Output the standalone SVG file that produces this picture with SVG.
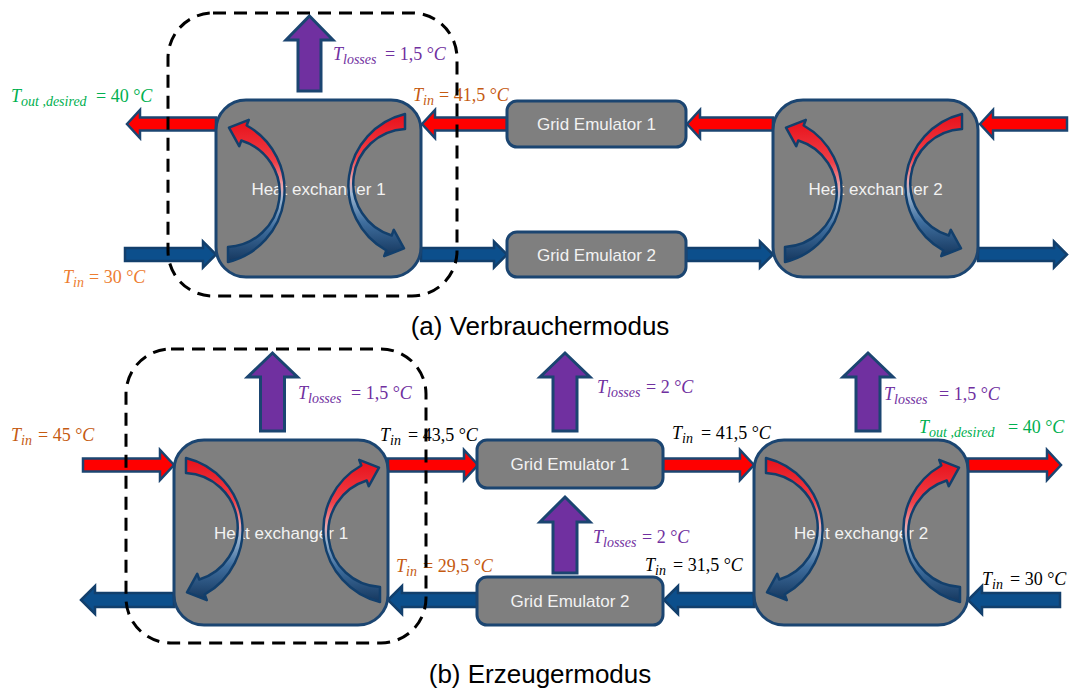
<svg xmlns="http://www.w3.org/2000/svg" xmlns:xlink="http://www.w3.org/1999/xlink" width="1074" height="691" viewBox="0 0 1074 691">
<defs>
<style>
.hx{fill:#7f7f7f;stroke:#1b4571;stroke-width:3}
.ge{fill:#7f7f7f;stroke:#1b4571;stroke-width:3}
.nt{font-family:"Liberation Sans",Arial,sans-serif;font-size:17px;fill:#f2f2f2;text-anchor:middle}
.red{fill:#ff0000;stroke:#1b4571;stroke-width:2.5}
.blue{fill:#0c4f8c;stroke:#123f6c;stroke-width:2.5}
.loss{fill:#7030a0;stroke:#1b4571;stroke-width:3}
.ca{stroke:#123f6c;stroke-width:2.5;stroke-linejoin:round}
.m{font-family:"Liberation Serif","Times New Roman",serif;font-size:18px}
.i{font-style:italic}
.sub{font-style:italic;font-size:14px}
.dash{fill:none;stroke:#000;stroke-width:3;stroke-dasharray:13 8}
.cap{font-family:"Liberation Sans",Arial,sans-serif;font-size:26px;fill:#000;text-anchor:middle}
</style>
<linearGradient id="gRB" x1="0" y1="0" x2="0" y2="1">
<stop offset="0" stop-color="#e8101a"/>
<stop offset="0.3" stop-color="#f04048"/>
<stop offset="0.47" stop-color="#e9a8ae"/>
<stop offset="0.56" stop-color="#9db6d0"/>
<stop offset="0.76" stop-color="#3f6e9e"/>
<stop offset="1" stop-color="#15375e"/>
</linearGradient>
<linearGradient id="gBR" x1="0" y1="1" x2="0" y2="0">
<stop offset="0" stop-color="#e8101a"/>
<stop offset="0.3" stop-color="#f04048"/>
<stop offset="0.47" stop-color="#e9a8ae"/>
<stop offset="0.56" stop-color="#9db6d0"/>
<stop offset="0.76" stop-color="#3f6e9e"/>
<stop offset="1" stop-color="#15375e"/>
</linearGradient>
<path id="ca" class="ca" d="M 12 147 L 12 162 A 74 74 0 0 0 30.7 25.5 L 32.8 19.8 L 13 27.6 L 23.2 46.2 L 25.3 40.5 A 54.5 54.5 0 0 1 12 147 Z"/>
</defs>

<g id="connectors">
<polygon class="red" points="127,124 140,110 140,117.5 216,117.5 216,130.5 140,130.5 140,138"/>
<polygon class="red" points="422,124 435,110 435,117.5 507,117.5 507,130.5 435,130.5 435,138"/>
<polygon class="red" points="687,124 700,110 700,117.5 773,117.5 773,130.5 700,130.5 700,138"/>
<polygon class="red" points="980,124 993,110 993,117.5 1067,117.5 1067,130.5 993,130.5 993,138"/>
<polygon class="blue" points="125,248 203,248 203,241.5 216,254.5 203,267.5 203,261 125,261"/>
<polygon class="blue" points="421,248 494,248 494,241.5 507,254.5 494,267.5 494,261 421,261"/>
<polygon class="blue" points="686,248 760,248 760,241.5 773,254.5 760,267.5 760,261 686,261"/>
<polygon class="blue" points="978,248 1054,248 1054,241.5 1067,254.5 1054,267.5 1054,261 978,261"/>
<polygon class="red" points="83,458.5 160,458.5 160,450 174,465 160,480 160,471.5 83,471.5"/>
<polygon class="red" points="388,458.5 464,458.5 464,450 478,465 464,480 464,471.5 388,471.5"/>
<polygon class="red" points="663,458.5 740,458.5 740,450 754,465 740,480 740,471.5 663,471.5"/>
<polygon class="red" points="968,458.5 1047,458.5 1047,450 1061,465 1047,480 1047,471.5 968,471.5"/>
<polygon class="blue" points="81,600 95,586 95,593 174,593 174,607 95,607 95,614"/>
<polygon class="blue" points="388,600 402,586 402,593 478,593 478,607 402,607 402,614"/>
<polygon class="blue" points="664,600 678,586 678,593 754,593 754,607 678,607 678,614"/>
<polygon class="blue" points="968,600 982,586 982,593 1060,593 1060,607 982,607 982,614"/>
<polygon class="loss" points="309.5,16 333,40 321,40 321,91 298,91 298,40 286,40"/>
<polygon class="loss" points="272.5,353 297.5,377 284.5,377 284.5,431 260.5,431 260.5,377 247.5,377"/>
<polygon class="loss" points="565,353 590,377 577,377 577,431 553,431 553,377 540,377"/>
<polygon class="loss" points="565,497 590,522 577,522 577,573 553,573 553,522 540,522"/>
<polygon class="loss" points="868,353 893,377 880,377 880,431 856,431 856,377 843,377"/>
</g>

<g id="hx1-a">
<rect class="hx" x="216" y="100" width="205" height="177" rx="30"/>
<text class="nt" x="318.5" y="195">Heat exchanger 1</text>
<use xlink:href="#ca" transform="translate(216,100)" fill="url(#gRB)"/>
<use xlink:href="#ca" transform="translate(216,100) rotate(180 100.5 88)" fill="url(#gBR)"/>
</g>
<g id="ge1-a">
<rect class="ge" x="507" y="101" width="179" height="46" rx="10"/>
<text class="nt" x="596.5" y="130">Grid Emulator 1</text>
</g>
<g id="ge2-a">
<rect class="ge" x="507" y="232" width="179" height="45" rx="10"/>
<text class="nt" x="596.5" y="261">Grid Emulator 2</text>
</g>
<g id="hx2-a">
<rect class="hx" x="773" y="100" width="205" height="177" rx="30"/>
<text class="nt" x="875.5" y="195">Heat exchanger 2</text>
<use xlink:href="#ca" transform="translate(773,100)" fill="url(#gRB)"/>
<use xlink:href="#ca" transform="translate(773,100) rotate(180 100.5 88)" fill="url(#gBR)"/>
</g>

<g id="hx1-b">
<rect class="hx" x="174" y="440" width="214" height="185" rx="30"/>
<text class="nt" x="281" y="539">Heat exchanger 1</text>
<use xlink:href="#ca" transform="translate(174,440) matrix(1,0,0,-1,0,180)" fill="url(#gBR)"/>
<use xlink:href="#ca" transform="translate(174,440) matrix(-1,0,0,1,218,0)" fill="url(#gRB)"/>
</g>
<g id="ge1-b">
<rect class="ge" x="477" y="440" width="186" height="48" rx="10"/>
<text class="nt" x="570" y="470">Grid Emulator 1</text>
</g>
<g id="ge2-b">
<rect class="ge" x="477" y="577" width="186" height="48" rx="10"/>
<text class="nt" x="570" y="607">Grid Emulator 2</text>
</g>
<g id="hx2-b">
<rect class="hx" x="754" y="440" width="214" height="185" rx="30"/>
<text class="nt" x="861" y="539">Heat exchanger 2</text>
<use xlink:href="#ca" transform="translate(754,440) matrix(1,0,0,-1,0,180)" fill="url(#gBR)"/>
<use xlink:href="#ca" transform="translate(754,440) matrix(-1,0,0,1,218,0)" fill="url(#gRB)"/>
</g>

<g id="labels">
<text class="m" fill="#7030a0" x="333" y="60"><tspan class="i">T</tspan><tspan class="sub" dy="4">losses</tspan><tspan x="385" dy="-4">= 1,5 °</tspan><tspan class="i">C</tspan></text>
<text class="m" fill="#00b050" x="11" y="102"><tspan class="i">T</tspan><tspan class="sub" dy="4">out ,desired</tspan><tspan x="96" dy="-4">= 40 °</tspan><tspan class="i">C</tspan></text>
<text class="m" fill="#c55a11" x="413" y="101"><tspan class="i">T</tspan><tspan class="sub" dy="4">in</tspan><tspan x="439" dy="-4">= 41,5 °</tspan><tspan class="i">C</tspan></text>
<text class="m" fill="#ed7d31" x="63" y="283"><tspan class="i">T</tspan><tspan class="sub" dy="4">in</tspan><tspan x="89" dy="-4">= 30 °</tspan><tspan class="i">C</tspan></text>
<text class="m" fill="#7030a0" x="298" y="399"><tspan class="i">T</tspan><tspan class="sub" dy="4">losses</tspan><tspan x="351" dy="-4">= 1,5 °</tspan><tspan class="i">C</tspan></text>
<text class="m" fill="#c55a11" x="11" y="441"><tspan class="i">T</tspan><tspan class="sub" dy="4">in</tspan><tspan x="38" dy="-4">= 45 °</tspan><tspan class="i">C</tspan></text>
<text class="m" fill="#000" x="380" y="441"><tspan class="i">T</tspan><tspan class="sub" dy="4">in</tspan><tspan x="408" dy="-4">= 43,5 °</tspan><tspan class="i">C</tspan></text>
<text class="m" fill="#c55a11" x="396" y="572"><tspan class="i">T</tspan><tspan class="sub" dy="4">in</tspan><tspan x="423" dy="-4">= 29,5 °</tspan><tspan class="i">C</tspan></text>
<text class="m" fill="#7030a0" x="597" y="393"><tspan class="i">T</tspan><tspan class="sub" dy="4">losses</tspan><tspan x="646" dy="-4">= 2 °</tspan><tspan class="i">C</tspan></text>
<text class="m" fill="#7030a0" x="593" y="543"><tspan class="i">T</tspan><tspan class="sub" dy="4">losses</tspan><tspan x="642" dy="-4">= 2 °</tspan><tspan class="i">C</tspan></text>
<text class="m" fill="#000" x="672" y="439"><tspan class="i">T</tspan><tspan class="sub" dy="4">in</tspan><tspan x="701" dy="-4">= 41,5 °</tspan><tspan class="i">C</tspan></text>
<text class="m" fill="#000" x="645" y="571"><tspan class="i">T</tspan><tspan class="sub" dy="4">in</tspan><tspan x="673" dy="-4">= 31,5 °</tspan><tspan class="i">C</tspan></text>
<text class="m" fill="#7030a0" x="884" y="400"><tspan class="i">T</tspan><tspan class="sub" dy="4">losses</tspan><tspan x="939" dy="-4">= 1,5 °</tspan><tspan class="i">C</tspan></text>
<text class="m" fill="#00b050" x="919" y="433"><tspan class="i">T</tspan><tspan class="sub" dy="4">out ,desired</tspan><tspan x="1008" dy="-4">= 40 °</tspan><tspan class="i">C</tspan></text>
<text class="m" fill="#000" x="982" y="585"><tspan class="i">T</tspan><tspan class="sub" dy="4">in</tspan><tspan x="1010" dy="-4">= 30 °</tspan><tspan class="i">C</tspan></text>
</g>

<g id="boundaries">
<rect class="dash" x="168" y="13" width="289" height="283" rx="45"/>
<rect class="dash" x="126" y="349" width="300" height="294" rx="45"/>
</g>

<g id="captions">
<text class="cap" x="540" y="335">(a) Verbrauchermodus</text>
<text class="cap" x="540" y="683">(b) Erzeugermodus</text>
</g>
</svg>
